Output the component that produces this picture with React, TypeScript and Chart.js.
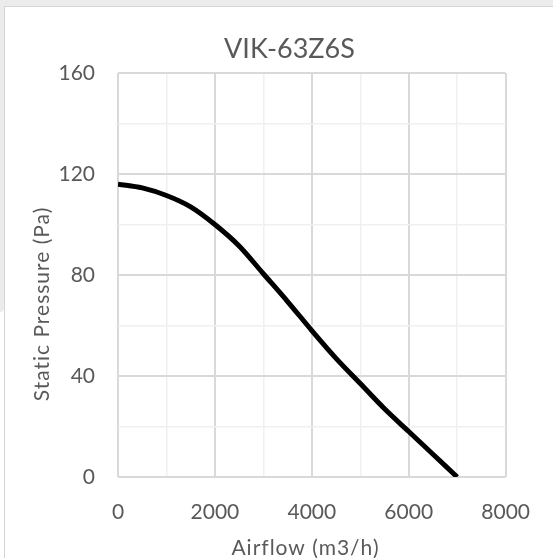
import React, { useEffect, useRef } from "react";
import { Chart, registerables } from "chart.js";

Chart.register(...registerables);

const chartTitle = "VIK-63Z6S";
const xAxisTitle = "Airflow (m3/h)";
const yAxisTitle = "Static Pressure (Pa)";
const airflow = [0, 500, 1000, 1500, 2000, 2500, 3000, 3500, 4000, 4500, 5000, 5500, 6000, 6500, 7000];
const pressure = [116, 114.5, 111.5, 107, 100, 91.5, 80.5, 69.5, 58, 47, 37, 27, 18, 9, 0];
const xMin = 0, xMax = 8000, xStep = 1000, xLabelStep = 2000;
const yMin = 0, yMax = 160, yStep = 20, yLabelStep = 40;

const FONT = "Lato, 'Open Sans', sans-serif";
const TEXT = "#595959";

const W = 548, H = 551;

export default function App() {
  const ref = useRef<HTMLCanvasElement>(null);
  useEffect(() => {
    const textPlugin = {
      id: "texts",
      afterDraw(chart: any) {
        const ctx = chart.ctx;
        ctx.save();
        ctx.fillStyle = TEXT;
        ctx.textAlign = "center";
        ctx.textBaseline = "middle";
        ctx.font = `27px ${FONT}`;
        ctx.fillText(chartTitle, 284.5, 42);
        ctx.font = `21px ${FONT}`;
        (ctx as any).letterSpacing = "1px";
        ctx.fillText(xAxisTitle, 300.5, 541);
        ctx.translate(37.5, 297);
        ctx.rotate(-Math.PI / 2);
        ctx.fillText(yAxisTitle, 0, 0);
        ctx.restore();
      },
    };
    const chart = new Chart(ref.current!, {
      type: "line",
      data: {
        datasets: [
          {
            data: airflow.map((x, i) => ({ x, y: pressure[i] })),
            borderColor: "#000000",
            borderWidth: 5,
            pointRadius: 0,
            cubicInterpolationMode: "monotone",
            fill: false,
          },
        ],
      },
      options: {
        responsive: false,
        animation: false,
        layout: { padding: { left: 0, right: 47, top: 66, bottom: 0 } },
        plugins: { legend: { display: false }, title: { display: false }, tooltip: { enabled: false } },
        scales: {
          x: {
            type: "linear",
            min: xMin,
            max: xMax,
            afterFit: (s: any) => { s.height = 81; },
            border: { display: false },
            grid: {
              drawTicks: false,
              color: (c: any) => (c.tick && c.tick.value % xLabelStep === 0 ? "#d9d9d9" : "#f0f0f0"),
              lineWidth: (c: any) => (c.tick && c.tick.value % xLabelStep === 0 ? 2 : 1.5),
            },
            ticks: {
              stepSize: xStep,
              autoSkip: false,
              maxRotation: 0,
              padding: 23,
              color: TEXT,
              font: { family: FONT, size: 21 },
              callback: (v: any) => (Number(v) % xLabelStep === 0 ? String(v) : ""),
            },
          },
          y: {
            type: "linear",
            min: yMin,
            max: yMax,
            afterFit: (s: any) => { s.width = 113; },
            border: { display: false },
            grid: {
              drawTicks: false,
              color: (c: any) => (c.tick && c.tick.value % yLabelStep === 0 ? "#d9d9d9" : "#f0f0f0"),
              lineWidth: (c: any) => (c.tick && c.tick.value % yLabelStep === 0 ? 2 : 1.5),
            },
            ticks: {
              stepSize: yStep,
              autoSkip: false,
              padding: 23,
              color: TEXT,
              font: { family: FONT, size: 21 },
              callback: (v: any) => (Number(v) % yLabelStep === 0 ? String(v) : ""),
            },
          },
        },
      },
      plugins: [textPlugin],
    } as any);
    return () => chart.destroy();
  }, []);

  return (
    <div style={{ position: "fixed", left: 0, top: 0, width: 553, height: 558, background: "#ffffff", overflow: "hidden" }}>
      <div style={{ position: "absolute", left: 0, top: 0, width: 553, height: 6, background: "#ececec" }} />
      <div style={{ position: "absolute", left: 0, top: 0, width: 4, height: 312, background: "#ececec", borderBottomRightRadius: 4 }} />
      <div style={{ position: "absolute", left: 4, top: 6, width: 549, height: 552, background: "#ffffff", borderLeft: "1px solid #d6d6d6", borderTop: "1px solid #d6d6d6" }} />
      <canvas ref={ref} width={W} height={H} style={{ position: "absolute", left: 5, top: 7, width: W, height: H }} />
    </div>
  );
}
